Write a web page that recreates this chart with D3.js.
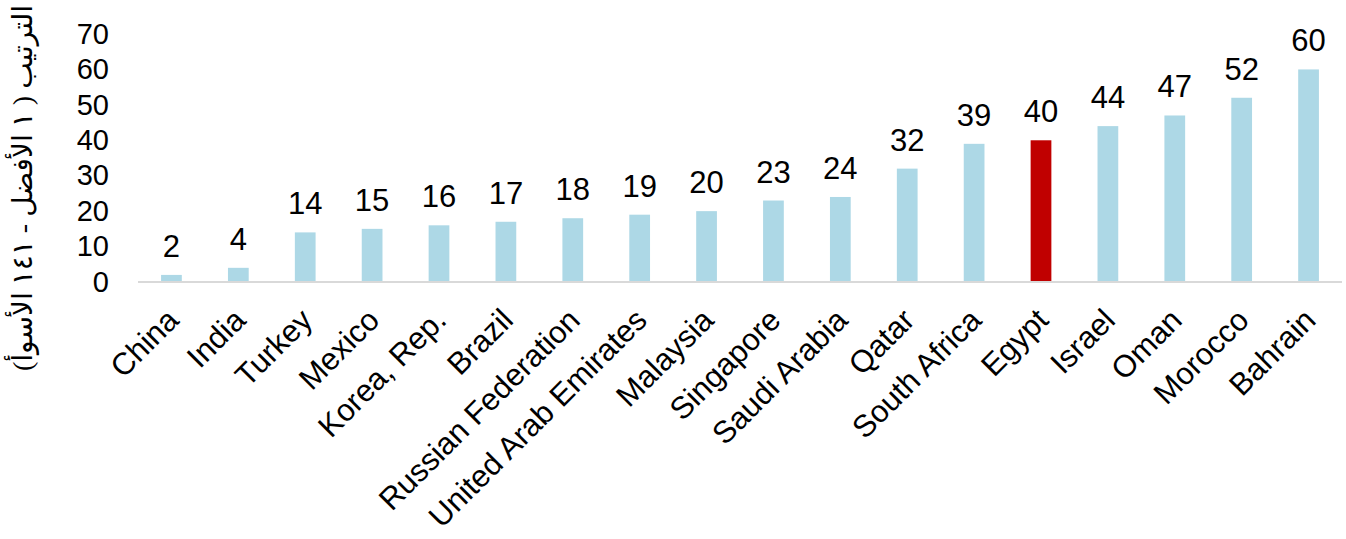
<!DOCTYPE html>
<html>
<head>
<meta charset="utf-8">
<script src="https://cdn.jsdelivr.net/npm/d3@7"></script>
<style>
  html, body { margin: 0; padding: 0; background: #fff; }
  svg { display: block; }
  text { font-family: "Liberation Sans", Arial, sans-serif; fill: #000; }
</style>
</head>
<body>
<svg id="chart" width="1346" height="539"></svg>
<script>
// Rank in the competitiveness index (1 = best, 141 = worst)
const countries = ["China", "India", "Turkey", "Mexico", "Korea, Rep.", "Brazil",
  "Russian Federation", "United Arab Emirates", "Malaysia", "Singapore",
  "Saudi Arabia", "Qatar", "South Africa", "Egypt", "Israel", "Oman",
  "Morocco", "Bahrain"];
const ranks = [2, 4, 14, 15, 16, 17, 18, 19, 20, 23, 24, 32, 39, 40, 44, 47, 52, 60];
const yTicks = [0, 10, 20, 30, 40, 50, 60, 70];
const highlight = "Egypt";
const yTitle = "الترتيب ( ١ الأفضل - ١٤١ الأسوأ)";

const svg = d3.select("#chart");
const plot = { left: 138, right: 1342, top: 34, bottom: 282 };

const x = d3.scaleBand().domain(countries).range([plot.left, plot.right]).paddingInner(0.69).paddingOuter(0.345);
const y = d3.scaleLinear().domain([0, 70]).range([plot.bottom, plot.top]);

const data = countries.map((c, i) => ({ country: c, rank: ranks[i] }));

// bars
svg.append("g").selectAll("rect").data(data).join("rect")
  .attr("x", d => x(d.country))
  .attr("y", d => y(d.rank))
  .attr("width", x.bandwidth())
  .attr("height", d => y(0) - y(d.rank))
  .attr("fill", d => d.country === highlight ? "#c00000" : "#add8e6");

// baseline
svg.append("line")
  .attr("x1", plot.left).attr("x2", plot.right)
  .attr("y1", y(0)).attr("y2", y(0))
  .attr("stroke", "#d9d9d9").attr("stroke-width", 2);

// y axis (labels only)
const yAxis = d3.axisLeft(y).tickValues(yTicks).tickSize(0).tickPadding(29);
const gy = svg.append("g").attr("transform", `translate(${plot.left},0)`).call(yAxis);
gy.select(".domain").remove();
gy.selectAll("text").attr("font-size", 29).attr("font-family", "Liberation Sans, Arial, sans-serif").attr("fill", "#000");

// value labels
svg.append("g").selectAll("text").data(data).join("text")
  .attr("x", d => x(d.country) + x.bandwidth() / 2)
  .attr("y", d => y(d.rank) - 18)
  .attr("text-anchor", "middle")
  .attr("font-size", 31)
  .text(d => d.rank);

// category labels, rotated
svg.append("g").selectAll("text").data(data).join("text")
  .attr("text-anchor", "end")
  .attr("font-size", 31)
  .attr("transform", d => `translate(${x(d.country) + x.bandwidth() / 2 + 9},${y(0) + 40}) rotate(-45)`)
  .text(d => d.country);

// y axis title
svg.append("text")
  .attr("transform", `translate(32,188) rotate(-90)`)
  .attr("text-anchor", "middle")
  .attr("direction", "rtl")
  .attr("font-size", 28)
  .style("font-family", "'Liberation Serif', 'DejaVu Sans', serif")
  .text(yTitle);
</script>
</body>
</html>
